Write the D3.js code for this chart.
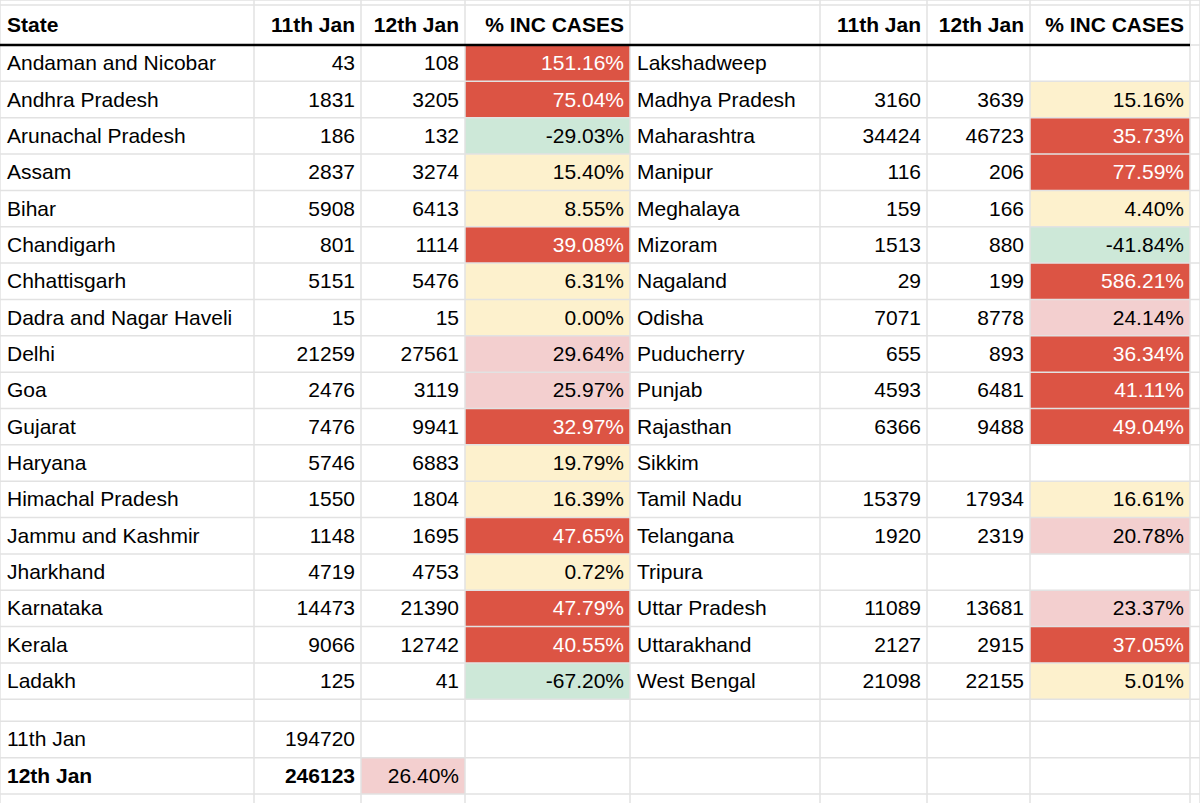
<!DOCTYPE html>
<html><head><meta charset="utf-8">
<script src="https://cdn.jsdelivr.net/npm/d3@7"></script>
<style>body{margin:0;background:#fff}</style>
</head><body>
<svg id="c" width="1200" height="803"></svg>
<script>
const headers = ["State", "11th Jan", "12th Jan", "% INC CASES"];
const leftStates = ["Andaman and Nicobar","Andhra Pradesh","Arunachal Pradesh","Assam","Bihar","Chandigarh","Chhattisgarh","Dadra and Nagar Haveli","Delhi","Goa","Gujarat","Haryana","Himachal Pradesh","Jammu and Kashmir","Jharkhand","Karnataka","Kerala","Ladakh"];
const left11 = [43,1831,186,2837,5908,801,5151,15,21259,2476,7476,5746,1550,1148,4719,14473,9066,125];
const left12 = [108,3205,132,3274,6413,1114,5476,15,27561,3119,9941,6883,1804,1695,4753,21390,12742,41];
const leftPct = [151.16,75.04,-29.03,15.40,8.55,39.08,6.31,0.00,29.64,25.97,32.97,19.79,16.39,47.65,0.72,47.79,40.55,-67.20];
const rightStates = ["Lakshadweep","Madhya Pradesh","Maharashtra","Manipur","Meghalaya","Mizoram","Nagaland","Odisha","Puducherry","Punjab","Rajasthan","Sikkim","Tamil Nadu","Telangana","Tripura","Uttar Pradesh","Uttarakhand","West Bengal"];
const right11 = [null,3160,34424,116,159,1513,29,7071,655,4593,6366,null,15379,1920,null,11089,2127,21098];
const right12 = [null,3639,46723,206,166,880,199,8778,893,6481,9488,null,17934,2319,null,13681,2915,22155];
const rightPct = [null,15.16,35.73,77.59,4.40,-41.84,586.21,24.14,36.34,41.11,49.04,null,16.61,20.78,null,23.37,37.05,5.01];
const totalLabels = ["11th Jan","12th Jan"];
const totals = [194720,246123];
const totalPct = 26.40;

const svg = d3.select("#c");
const font = "'Liberation Sans', Arial, sans-serif";
const colEdges = [0,254,361,465,630,820,927,1030,1190,1200];
const x = i => colEdges[i];
const headerTop = 5, headerBottom = 45, rowH = 36.35;
const nRows = leftStates.length;
const dataBottom = headerBottom + nRows*rowH;
const rowTops = [0, headerTop, headerBottom];
for (let i=1;i<=nRows;i++) rowTops.push(headerBottom+i*rowH);
const blankEnd = dataBottom + 22;
rowTops.push(blankEnd, blankEnd+rowH, blankEnd+2*rowH);

const fill = d3.scaleThreshold().domain([0,20,30]).range(["#cde8d8","#fdf1cd","#f3cfcf","#dc5444"]);
const txtCol = v => v >= 30 ? "#fff" : "#000";
const fmtPct = v => v.toFixed(2)+"%";

// cell backgrounds
function pctCell(col, rowTop, v){
  if (v==null) return;
  svg.append("rect").attr("x",x(col)).attr("y",rowTop).attr("width",x(col+1)-x(col)).attr("height",rowH).attr("fill",fill(v));
}
leftPct.forEach((v,i)=>pctCell(3, headerBottom+i*rowH, v));
rightPct.forEach((v,i)=>pctCell(7, headerBottom+i*rowH, v));
pctCell(2, blankEnd+rowH, totalPct);

// grid
const g = svg.append("g").attr("stroke","#e2e2e2").attr("stroke-width",1.5);
colEdges.forEach(c=>g.append("line").attr("x1",c).attr("x2",c).attr("y1",0).attr("y2",803));
rowTops.forEach(r=>g.append("line").attr("x1",0).attr("x2",1200).attr("y1",r).attr("y2",r));
svg.append("line").attr("x1",0).attr("x2",1190).attr("y1",headerBottom).attr("y2",headerBottom).attr("stroke","#000").attr("stroke-width",2.5);

function text(col, rowTop, h, s, opts={}){
  const right = opts.align !== "left";
  svg.append("text")
    .attr("x", right ? x(col+1)-6 : x(col)+7)
    .attr("y", rowTop + h/2 + 7)
    .attr("text-anchor", right ? "end" : "start")
    .attr("font-family", font).attr("font-size", 21)
    .attr("font-weight", opts.bold ? "bold" : "normal")
    .attr("fill", opts.color || "#000")
    .text(s);
}
// headers
[[0,4]].forEach(([start])=>{
  headers.forEach((h,i)=>{ if(!(start===4 && i===0)) text(start+i, headerTop, headerBottom-headerTop, h, {bold:true, align: i===0?"left":"right"}); });
});
headers.slice(1).forEach((h,i)=>text(5+i, headerTop, headerBottom-headerTop, h, {bold:true}));

// clip first col
svg.append("clipPath").attr("id","c0").append("rect").attr("x",0).attr("y",0).attr("width",x(1)).attr("height",803);
leftStates.forEach((s,i)=>{
  const t = headerBottom+i*rowH;
  svg.append("g").attr("clip-path","url(#c0)").call(()=>{});
  text(0,t,rowH,s,{align:"left"});
  text(1,t,rowH,left11[i]);
  text(2,t,rowH,left12[i]);
  text(3,t,rowH,fmtPct(leftPct[i]),{color:txtCol(leftPct[i])});
});
rightStates.forEach((s,i)=>{
  const t = headerBottom+i*rowH;
  text(4,t,rowH,s,{align:"left"});
  if (right11[i]!=null){
    text(5,t,rowH,right11[i]);
    text(6,t,rowH,right12[i]);
    text(7,t,rowH,fmtPct(rightPct[i]),{color:txtCol(rightPct[i])});
  }
});
totalLabels.forEach((l,i)=>{
  const t = blankEnd+i*rowH, b = i===1;
  text(0,t,rowH,l,{align:"left",bold:b});
  text(1,t,rowH,totals[i],{bold:b});
});
text(2,blankEnd+rowH,rowH,fmtPct(totalPct));
</script>
</body></html>
